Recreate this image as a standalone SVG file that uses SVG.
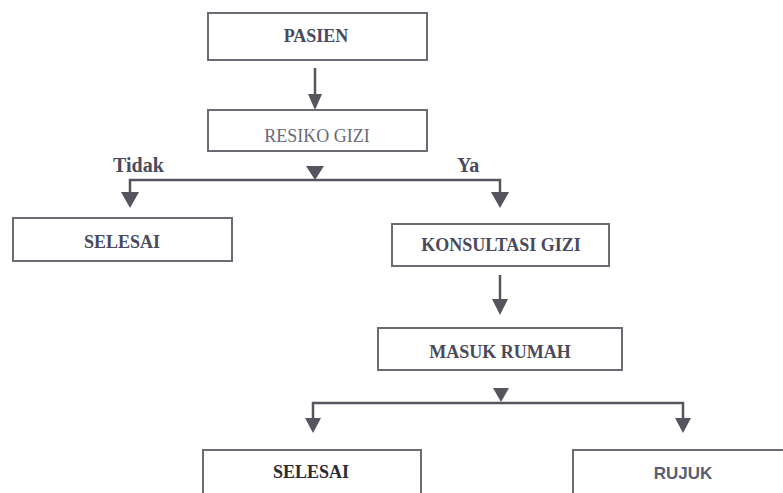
<svg xmlns="http://www.w3.org/2000/svg" width="783" height="493" viewBox="0 0 783 493">
  <style>
    .box { fill: #ffffff; stroke: #6b6b74; stroke-width: 2; }
    .lbl { font-family: "Liberation Serif", "DejaVu Serif", serif; font-size: 18px; font-weight: bold; fill: #4a4a5c; text-anchor: middle; }
    .lite { font-weight: normal; fill: #6a6a78; }
    .dark { fill: #2c2c34; }
    .sans { font-family: "Liberation Sans", Arial, sans-serif; font-size: 17px; fill: #5a5e70; }
    .edge { fill: none; stroke: #55555f; stroke-width: 2.5; }
    .tip { fill: #55555f; }
    .branch { font-family: "Liberation Serif", "DejaVu Serif", serif; font-size: 20px; font-weight: bold; fill: #4a4a5c; }
  </style>
  <rect width="783" height="493" fill="#ffffff"/>

  <g id="connectors">
    <!-- PASIEN -> RESIKO GIZI -->
    <line class="edge" x1="315" y1="68" x2="315" y2="95"/>
    <polygon class="tip" points="308,94 322,94 315,110"/>

    <!-- RESIKO GIZI split: Tidak / Ya -->
    <polygon class="tip" points="306,166 324,166 315,180"/>
    <polyline class="edge" points="130,195 130,180 500,180 500,195"/>
    <polygon class="tip" points="121,192 139,192 130,208"/>
    <polygon class="tip" points="491,192 509,192 500,208"/>

    <!-- KONSULTASI GIZI -> MASUK RUMAH -->
    <line class="edge" x1="500" y1="275" x2="500" y2="301"/>
    <polygon class="tip" points="492,299 508,299 500,315"/>

    <!-- MASUK RUMAH split -->
    <polygon class="tip" points="493,388 509,388 501,402"/>
    <polyline class="edge" points="313,420 313,403 683,403 683,420"/>
    <polygon class="tip" points="305,418 321,418 313,433"/>
    <polygon class="tip" points="675,418 691,418 683,433"/>
  </g>

  <g id="label-tidak">
    <text class="branch" x="113" y="172">Tidak</text>
  </g>
  <g id="label-ya">
    <text class="branch" x="457" y="172">Ya</text>
  </g>

  <g id="pasien">
    <rect class="box" x="208" y="13" width="219" height="47"/>
    <text class="lbl" x="316" y="42">PASIEN</text>
  </g>

  <g id="resiko-gizi">
    <rect class="box" x="208" y="110" width="219" height="41"/>
    <text class="lbl lite" x="317" y="142">RESIKO GIZI</text>
  </g>

  <g id="selesai-1">
    <rect class="box" x="13" y="218" width="219" height="43"/>
    <text class="lbl" x="122" y="248">SELESAI</text>
  </g>

  <g id="konsultasi-gizi">
    <rect class="box" x="392" y="224" width="217" height="42"/>
    <text class="lbl" x="501" y="251">KONSULTASI GIZI</text>
  </g>

  <g id="masuk-rumah">
    <rect class="box" x="378" y="328" width="244" height="42"/>
    <text class="lbl" x="500" y="358">MASUK RUMAH</text>
  </g>

  <g id="selesai-2">
    <rect class="box" x="203" y="450" width="218" height="50"/>
    <text class="lbl dark" x="311" y="478">SELESAI</text>
  </g>

  <g id="rujuk">
    <rect class="box" x="573" y="450" width="220" height="50"/>
    <text class="sans" x="683" y="479" text-anchor="middle" font-weight="bold">RUJUK</text>
  </g>
</svg>
